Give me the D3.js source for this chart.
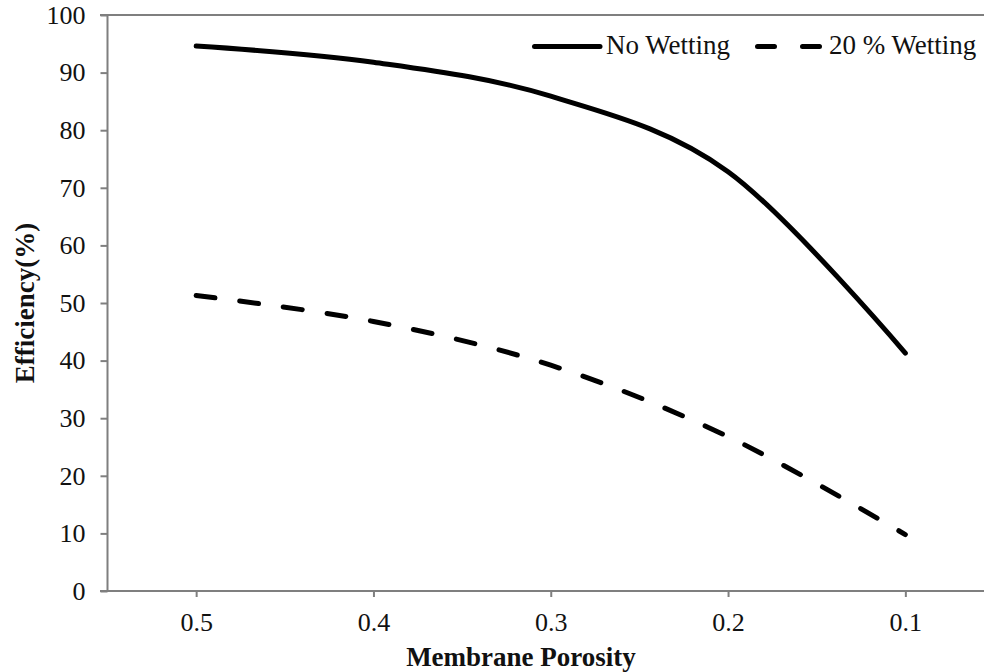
<!DOCTYPE html>
<html>
<head>
<meta charset="utf-8">
<script src="https://cdn.jsdelivr.net/npm/d3@7"></script>
<style>
html, body { margin: 0; padding: 0; background: #fff; }
svg { display: block; }
</style>
</head>
<body>
<div id="chart"></div>
<script>
const categories = ["0.5", "0.4", "0.3", "0.2", "0.1"];
const noWetting = [94.6, 91.8, 85.9, 72.8, 41.3];
const wetting20 = [51.3, 46.8, 39.2, 26.8, 9.8];
const yTicks = [0, 10, 20, 30, 40, 50, 60, 70, 80, 90, 100];
const seriesNames = ["No Wetting", "20 % Wetting"];
const xTitle = "Membrane Porosity";
const yTitle = "Efficiency(%)";

(function () {
const W = 984, H = 672;
const mLeft = 107.5, mTop = 15, mBottom = 591, bandRight = 994;
const axisColor = "#7f7f7f";
const FONT = "Liberation Serif";

const svg = d3.select("#chart").append("svg")
  .attr("width", W).attr("height", H)
  .style("background", "#fff");

const x = d3.scalePoint().domain(categories).range([mLeft, bandRight]).padding(0.5);
const y = d3.scaleLinear().domain([0, 100]).range([mBottom, mTop]);

// top border
svg.append("line")
  .attr("x1", 100).attr("x2", W).attr("y1", y(100)).attr("y2", y(100))
  .attr("stroke", axisColor).attr("stroke-width", 2);

// y axis
const yAxis = svg.append("g")
  .attr("transform", `translate(${mLeft},0)`)
  .call(d3.axisLeft(y).tickValues(yTicks).tickSize(7).tickPadding(15).tickFormat(d3.format("d")));
yAxis.attr("font-family", FONT).attr("font-size", 26);
yAxis.select(".domain").attr("stroke", axisColor).attr("stroke-width", 2)
  .attr("d", `M0,${mTop}V${mBottom}`);
yAxis.selectAll(".tick line").attr("stroke", axisColor).attr("stroke-width", 2);
yAxis.selectAll(".tick text").attr("fill", "#111")
  .attr("font-family", FONT).attr("font-size", 26);

// x axis
const xAxis = svg.append("g")
  .attr("transform", `translate(0,${mBottom})`)
  .call(d3.axisBottom(x).tickSize(6).tickPadding(16));
xAxis.attr("font-family", FONT).attr("font-size", 26);
xAxis.select(".domain").attr("stroke", axisColor).attr("stroke-width", 2)
  .attr("d", `M100,0H${W}`);
xAxis.selectAll(".tick line").attr("stroke", axisColor).attr("stroke-width", 2);
xAxis.selectAll(".tick text").attr("fill", "#111")
  .attr("font-family", FONT).attr("font-size", 26);

// axis titles
svg.append("text")
  .attr("x", 521).attr("y", 666)
  .attr("text-anchor", "middle")
  .attr("font-family", FONT).attr("font-size", 27).attr("font-weight", "bold").attr("fill", "#111")
  .text(xTitle);
svg.append("text")
  .attr("transform", `translate(34,${(mTop + mBottom) / 2}) rotate(-90)`)
  .attr("text-anchor", "middle")
  .attr("font-family", FONT).attr("font-size", 27).attr("font-weight", "bold").attr("fill", "#111")
  .text(yTitle);

// lines
const line = d3.line()
  .x((d, i) => x(categories[i]))
  .y(d => y(d))
  .curve(d3.curveCardinal.tension(0));

svg.append("path").datum(noWetting)
  .attr("d", line).attr("fill", "none")
  .attr("stroke", "#000").attr("stroke-width", 5).attr("stroke-linecap", "round");

svg.append("path").datum(wetting20)
  .attr("d", line).attr("fill", "none")
  .attr("stroke", "#000").attr("stroke-width", 5).attr("stroke-linecap", "round")
  .attr("stroke-dasharray", "19,25");

// legend
const legend = svg.append("g").attr("font-family", FONT).attr("font-size", 27).attr("fill", "#111");
legend.append("line").attr("x1", 534.5).attr("x2", 600).attr("y1", 46.5).attr("y2", 46.5)
  .attr("stroke", "#000").attr("stroke-width", 5).attr("stroke-linecap", "round");
legend.append("text").attr("x", 606).attr("y", 54).text(seriesNames[0]);
legend.append("line").attr("x1", 757.5).attr("x2", 820).attr("y1", 46.5).attr("y2", 46.5)
  .attr("stroke", "#000").attr("stroke-width", 5).attr("stroke-linecap", "round")
  .attr("stroke-dasharray", "17,28");
legend.append("text").attr("x", 829).attr("y", 54).text(seriesNames[1]);
})();
</script>
</body>
</html>
